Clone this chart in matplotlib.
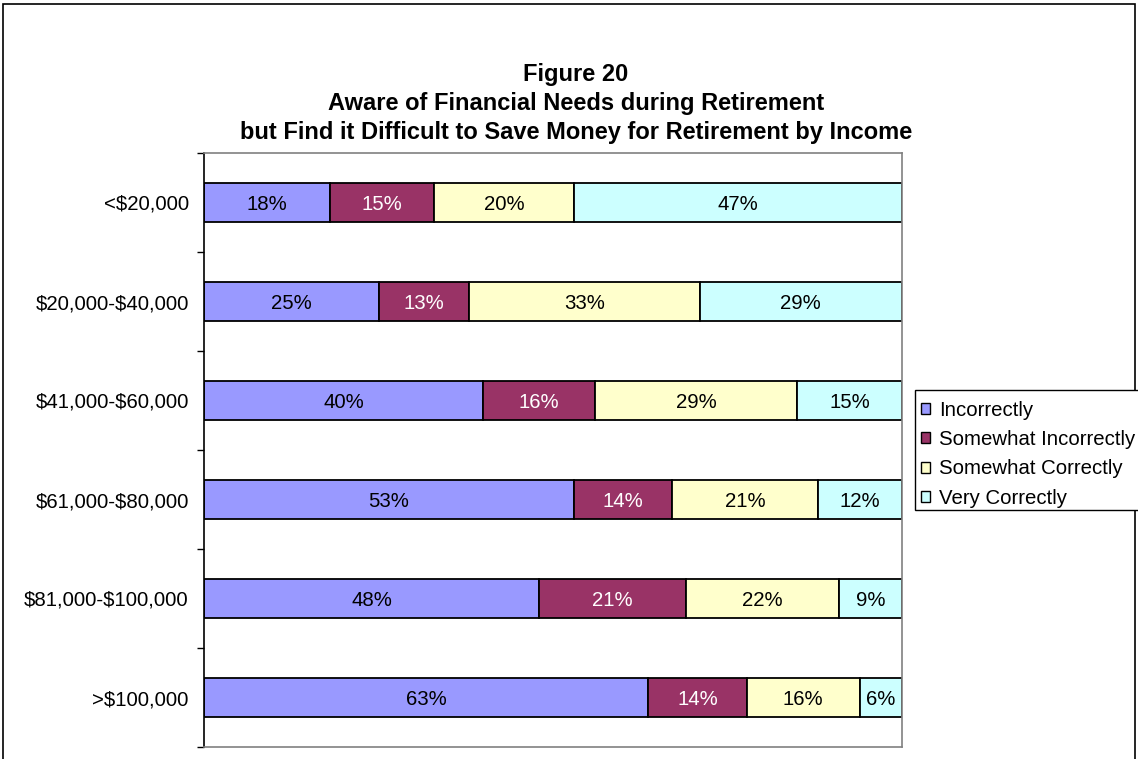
import matplotlib
matplotlib.use("Agg")
import matplotlib.pyplot as plt
import numpy as np
from matplotlib.patches import Rectangle

plt.rcParams['font.family'] = ['Liberation Sans', 'DejaVu Sans']
plt.rcParams['text.parse_math'] = False

categories = ["<$20,000", "$20,000-$40,000", "$41,000-$60,000",
              "$61,000-$80,000", "$81,000-$100,000", ">$100,000"]
series_names = ["Incorrectly", "Somewhat Incorrectly", "Somewhat Correctly", "Very Correctly"]
incorrectly = [18, 25, 40, 53, 48, 63]
somewhat_incorrectly = [15, 13, 16, 14, 21, 14]
somewhat_correctly = [20, 33, 29, 21, 22, 16]
very_correctly = [47, 29, 15, 12, 9, 6]
colors = ["#9999FF", "#993366", "#FFFFCC", "#CCFFFF"]
text_colors = ["black", "white", "black", "black"]
title_lines = ["Figure 20",
               "Aware of Financial Needs during Retirement",
               "but Find it Difficult to Save Money for Retirement by Income"]

W, H = 1138, 759
FS = 14.7
fig = plt.figure(figsize=(W / 100, H / 100), dpi=100)
fig.patch.set_facecolor("white")

# outer chart border
fig.add_artist(Rectangle((3 / W, -0.02), 1132 / W, (H - 4) / H + 0.02,
                         transform=fig.transFigure, fill=False,
                         edgecolor="black", linewidth=1.2))

ax = fig.add_axes([204 / W, (H - 747) / H, (902 - 204) / W, (747 - 153) / H])

data = np.array([incorrectly, somewhat_incorrectly, somewhat_correctly, very_correctly], dtype=float)
totals = data.sum(axis=0)
frac = data / totals * 100

y = np.arange(len(categories))
left = np.zeros(len(categories))
handles = []
for i, name in enumerate(series_names):
    bars = ax.barh(y, frac[i], left=left, height=0.4, color=colors[i],
                   edgecolor="black", linewidth=1.3, label=name)
    handles.append(bars)
    for j in range(len(categories)):
        ax.text(left[j] + frac[i][j] / 2, y[j], f"{int(data[i][j])}%",
                ha="center", va="center_baseline", fontsize=FS, color=text_colors[i])
    left += frac[i]

ax.set_xlim(0, 100)
ax.set_ylim(len(categories) - 0.5, -0.5)
ax.set_xticks([])
ax.set_yticks(np.arange(-0.5, len(categories), 1.0))
ax.set_yticklabels([])
ax.set_yticks(y, minor=True)
ax.set_yticklabels(categories, minor=True, fontsize=FS)
ax.tick_params(axis="y", which="major", direction="out", length=5, width=1, color="black")
ax.tick_params(axis="y", which="minor", length=0, pad=11)
for s in ["top", "right", "bottom"]:
    ax.spines[s].set_color("#808080")
    ax.spines[s].set_linewidth(1.2)
ax.spines["left"].set_color("black")
ax.spines["left"].set_linewidth(1.2)

for k, line in enumerate(title_lines):
    fig.text(576 / W, 1 - (74 + 29.5 * k) / H, line, ha="center", va="center",
             fontsize=17, fontweight="bold")

# legend frame (extends past the right edge as in the original)
fig.add_artist(Rectangle((915 / W, 1 - 510 / H), 240 / W, 120 / H,
                         transform=fig.transFigure, fill=True, facecolor="white",
                         edgecolor="black", linewidth=1.0))
leg = fig.legend(handles=handles, labels=series_names, loc="upper left",
                 bbox_to_anchor=(919 / W, 1 - 399 / H), fontsize=FS,
                 frameon=False, handlelength=0.45, handleheight=0.45,
                 handletextpad=0.45, labelspacing=0.5, borderpad=0.1,
                 borderaxespad=0)
for h in leg.legend_handles:
    h.set_linewidth(1.0)
    h.set_edgecolor("black")

fig.savefig("out.png", dpi=100)
